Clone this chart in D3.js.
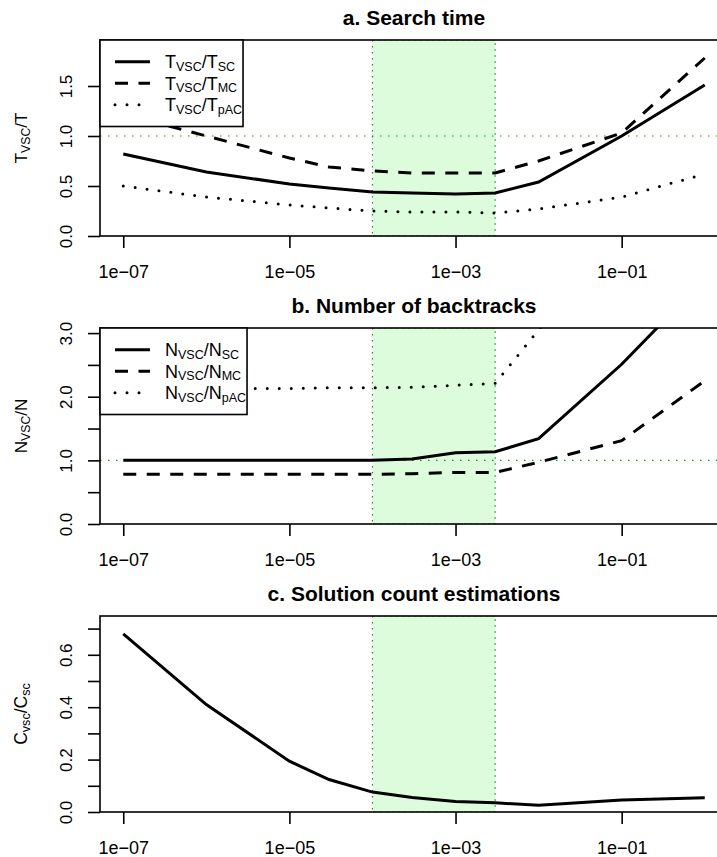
<!DOCTYPE html>
<html>
<head>
<meta charset="utf-8">
<script src="https://cdn.jsdelivr.net/npm/d3@7"></script>
<style>
body { margin: 0; background: #fff; }
text { font-family: "Liberation Sans", Arial, Helvetica, sans-serif; fill: #000; }
</style>
</head>
<body>
<script>
// probability values on the x axis (log scale)
const xVals = [1e-7, 1e-6, 1e-5, 3e-5, 1e-4, 3e-4, 1e-3, 3e-3, 1e-2, 1e-1, 1]
const xTicks = [1e-7, 1e-5, 1e-3, 1e-1]
const xTickLabels = ["1e\u221207", "1e\u221205", "1e\u221203", "1e\u221201"]
const bandRange = [1e-4, 3e-3]

// a. search time ratios
const timeSC  = [0.82, 0.64, 0.52, 0.48, 0.44, 0.43, 0.42, 0.43, 0.54, 1.00, 1.51]
const timeMC  = [1.22, 1.00, 0.78, 0.69, 0.65, 0.63, 0.63, 0.63, 0.75, 1.03, 1.78]
const timePAC = [0.50, 0.39, 0.31, 0.28, 0.25, 0.24, 0.24, 0.23, 0.27, 0.39, 0.62]

// b. backtrack ratios
const btSC  = [1.00, 1.00, 1.00, 1.00, 1.00, 1.02, 1.12, 1.135, 1.34, 2.51, 3.85]
const btMC  = [0.78, 0.78, 0.78, 0.78, 0.78, 0.79, 0.81, 0.81, 0.97, 1.31, 2.25]
const btPAC = [2.12, 2.13, 2.13, 2.14, 2.14, 2.15, 2.18, 2.21, 3.05, 4.60, 6.20]

// c. solution count estimation ratio
const countSC = [0.68, 0.41, 0.194, 0.124, 0.076, 0.055, 0.040, 0.035, 0.026, 0.046, 0.054]

const timeTicks = [0, 0.5, 1.0, 1.5]
const timeTickLabels = ["0.0", "0.5", "1.0", "1.5"]
const btTicks = [0, 0.5, 1.0, 1.5, 2.0, 2.5, 3.0]
const btTickLabels = ["0.0", "", "1.0", "", "2.0", "", "3.0"]
const countTicks = [0, 0.1, 0.2, 0.3, 0.4, 0.5, 0.6, 0.7]
const countTickLabels = ["0.0", "", "0.2", "", "0.4", "", "0.6", ""]

const timeLegend = [["T", "VSC", "/T", "SC"], ["T", "VSC", "/T", "MC"], ["T", "VSC", "/T", "pAC"]]
const btLegend = [["N", "VSC", "/N", "SC"], ["N", "VSC", "/N", "MC"], ["N", "VSC", "/N", "pAC"]]

const W = 717, H = 857
const plotLeft = 100, plotRight = 728, panelH = 196
const green = "#13971a"

const svg = d3.select("body").append("svg")
    .attr("width", W)
    .attr("height", H)

const x = d3.scaleLog()
    .domain([Math.pow(10, -7.28), Math.pow(10, 0.28)])
    .range([plotLeft, plotRight])

const dashes = {solid: null, dashed: "13,10.5", dotted: "0,12"}

// write text with alternating normal / subscript parts
function richText(sel, parts, big, small, shift){
    parts.forEach((p, i) => {
        let t = sel.append("tspan").text(p)
        if (i % 2 == 1) {
            t.attr("font-size", small).attr("dy", shift)
        } else {
            t.attr("font-size", big)
            if (i > 0) t.attr("dy", -shift)
        }
    })
}

function drawPanel(cfg, idx){
    let top = cfg.top, bottom = cfg.top + panelH
    let y = d3.scaleLinear().domain([0, cfg.yMax]).range([bottom, top])
    let g = svg.append("g")

    g.append("clipPath").attr("id", "clip" + idx)
        .append("rect")
        .attr("x", plotLeft).attr("y", top)
        .attr("width", plotRight - plotLeft).attr("height", panelH)

    let inner = g.append("g").attr("clip-path", "url(#clip" + idx + ")")

    // highlighted band
    inner.append("rect")
        .attr("x", x(bandRange[0]))
        .attr("y", top)
        .attr("width", x(bandRange[1]) - x(bandRange[0]))
        .attr("height", panelH)
        .attr("fill", "#dcfcdc")
        .attr("stroke", green)
        .attr("stroke-width", 1.2)
        .attr("stroke-dasharray", "1.5,4.5")

    if (cfg.refLine) {
        inner.append("line")
            .attr("x1", plotLeft).attr("x2", plotRight)
            .attr("y1", y(1)).attr("y2", y(1))
            .attr("stroke", green)
            .attr("stroke-width", 1.2)
            .attr("stroke-dasharray", "1.5,6.5")
    }

    let line = d3.line()
        .x((d, i) => x(xVals[i]))
        .y(d => y(d))

    cfg.series.forEach(s => {
        inner.append("path")
            .datum(s.values)
            .attr("d", line)
            .attr("fill", "none")
            .attr("stroke", "#000")
            .attr("stroke-width", 3)
            .attr("stroke-linecap", s.style == "dotted" ? "round" : "butt")
            .attr("stroke-dasharray", dashes[s.style])
    })

    // box
    g.append("rect")
        .attr("x", plotLeft).attr("y", top)
        .attr("width", plotRight - plotLeft).attr("height", panelH)
        .attr("fill", "none")
        .attr("stroke", "#000")
        .attr("stroke-width", 1.6)

    // x axis
    let xAxis = g.append("g")
        .attr("transform", "translate(0," + bottom + ")")
        .call(d3.axisBottom(x)
            .tickValues(xTicks)
            .tickFormat((d, i) => xTickLabels[i])
            .tickSize(12)
            .tickPadding(17.5))
    xAxis.select(".domain").remove()
    xAxis.selectAll("line").attr("stroke-width", 1.6)
    xAxis.selectAll("text")
        .attr("font-size", 18)
        .attr("font-family", "Liberation Sans, Arial, sans-serif")

    // y axis with rotated labels
    let yAxis = g.append("g")
        .attr("transform", "translate(" + plotLeft + ",0)")
        .call(d3.axisLeft(y)
            .tickValues(cfg.yTicks)
            .tickFormat((d, i) => cfg.yTickLabels[i])
            .tickSize(12))
    yAxis.select(".domain").remove()
    yAxis.selectAll("line").attr("stroke-width", 1.6)
    yAxis.selectAll("text")
        .attr("x", null).attr("dy", null)
        .attr("transform", "translate(-28,0) rotate(-90)")
        .attr("text-anchor", "middle")
        .attr("font-size", 17)
        .attr("font-family", "Liberation Sans, Arial, sans-serif")

    // y title
    let yt = g.append("text")
        .attr("transform", "translate(27," + (top + panelH / 2) + ") rotate(-90)")
        .attr("text-anchor", "middle")
    richText(yt, cfg.yTitle, cfg.yTitleSize, cfg.yTitleSize * 0.72, 3)

    // title
    g.append("text")
        .attr("x", (plotLeft + plotRight) / 2)
        .attr("y", top - 15)
        .attr("text-anchor", "middle")
        .attr("font-size", 21)
        .attr("font-weight", "bold")
        .text(cfg.title)

    // legend
    if (cfg.legend) {
        let lg = g.append("g")
        let box = lg.append("rect")
            .attr("x", plotLeft).attr("y", top)
            .attr("height", 86.5)
            .attr("fill", "#fff")
            .attr("stroke", "#000")
            .attr("stroke-width", 1.6)
        let texts = lg.append("g")
        cfg.legend.forEach((parts, i) => {
            let ly = top + 21.7 + 21.5 * i
            lg.append("line")
                .attr("x1", 115).attr("x2", 150)
                .attr("y1", ly).attr("y2", ly)
                .attr("stroke", "#000")
                .attr("stroke-width", 3)
                .attr("stroke-linecap", cfg.series[i].style == "dotted" ? "round" : "butt")
                .attr("stroke-dasharray", dashes[cfg.series[i].style])
            let t = texts.append("text")
                .attr("x", 165)
                .attr("y", ly + 6.5)
            richText(t, parts, 18, 12.5, 2.5)
        })
        let bb = texts.node().getBBox()
        box.attr("width", bb.x + bb.width - plotLeft + 1)
    }
}

const panels = [
    {
        top: 40, yMax: 1.96, title: "a. Search time",
        yTicks: timeTicks, yTickLabels: timeTickLabels,
        yTitle: ["T", "VSC", "/T"], yTitleSize: 17, refLine: true,
        series: [{values: timeSC, style: "solid"}, {values: timeMC, style: "dashed"}, {values: timePAC, style: "dotted"}],
        legend: timeLegend
    },
    {
        top: 328, yMax: 3.08, title: "b. Number of backtracks",
        yTicks: btTicks, yTickLabels: btTickLabels,
        yTitle: ["N", "VSC", "/N"], yTitleSize: 17, refLine: true,
        series: [{values: btSC, style: "solid"}, {values: btMC, style: "dashed"}, {values: btPAC, style: "dotted"}],
        legend: btLegend
    },
    {
        top: 616, yMax: 0.748, title: "c. Solution count estimations",
        yTicks: countTicks, yTickLabels: countTickLabels,
        yTitle: ["C", "vsc", "/C", "sc"], yTitleSize: 17.5, refLine: false,
        series: [{values: countSC, style: "solid"}],
        legend: null
    }
]

panels.forEach(drawPanel)
</script>
</body>
</html>
